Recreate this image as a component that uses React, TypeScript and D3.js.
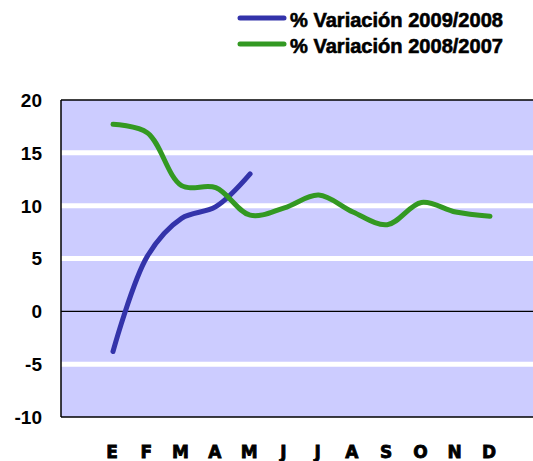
import { curveCatmullRom, line, scaleLinear, scalePoint } from "d3";
import type { ReactElement } from "react";

const months = ["E", "F", "M", "A", "M2", "J", "J2", "A2", "S", "O", "N", "D"];
const monthLabels = ["E", "F", "M", "A", "M", "J", "J", "A", "S", "O", "N", "D"];
const var2009 = [-3.8, 5.2, 8.8, 9.9, 13.0];
const var2008 = [17.7, 16.9, 11.9, 11.7, 9.1, 9.8, 11.0, 9.4, 8.2, 10.3, 9.4, 9.0];
const yTicks = [-10, -5, 0, 5, 10, 15, 20];
const seriesNames = ["% Variación 2009/2008", "% Variación 2008/2007"];
const seriesColors = ["#3333aa", "#339922"];

type Pt = { key: string; value: number };

const App = (): ReactElement => {
  const width = 533;
  const height = 461;
  const plot = { left: 61, top: 100, right: 540, bottom: 417 } as const;

  const x = scalePoint<string>().domain(months).range([113, 490]);
  const y = scaleLinear().domain([-10, 20]).range([plot.bottom, plot.top]);

  const lineGen = line<Pt>()
    .x((d) => x(d.key) ?? 0)
    .y((d) => y(d.value))
    .curve(curveCatmullRom);

  const series = [var2009, var2008].map((vals) =>
    vals.map((v, i) => ({ key: months[i], value: v }))
  );

  return (
    <svg
      width={width}
      height={height}
      style={{ position: "absolute", left: 0, top: 0 }}
      fontFamily="'Liberation Sans', Arial, sans-serif"
    >
      <rect x={0} y={0} width={width} height={height} fill="#ffffff" />

      {/* legend */}
      {seriesNames.map((name, i) => {
        const ly = 18 + i * 26;
        return (
          <g key={name}>
            <line x1={240} x2={284} y1={ly} y2={ly} stroke={seriesColors[i]} strokeWidth={5} strokeLinecap="round" />
            <text
              x={290}
              y={ly + 9}
              fontFamily="'Liberation Sans Narrow', 'Liberation Sans', sans-serif"
              fontWeight="bold"
              fontSize={20}
              textLength={213}
              lengthAdjust="spacingAndGlyphs"
              fill="#000"
              stroke="#000"
              strokeWidth={0.6}
            >
              {name}
            </text>
          </g>
        );
      })}

      {/* plot area */}
      <rect x={plot.left} y={plot.top} width={plot.right - plot.left} height={plot.bottom - plot.top} fill="#ccccff" />
      {yTicks.map((t) => (
        <g key={t}>
          {t !== 0 && t !== -10 && t !== 20 && (
            <line x1={plot.left} x2={plot.right} y1={y(t)} y2={y(t)} stroke="#ffffff" strokeWidth={5} />
          )}
          <text
            x={42}
            y={y(t)}
            dy="0.36em"
            textAnchor="end"
            fontWeight="bold"
            fontSize={19}
            fill="#000"
          >
            {t}
          </text>
        </g>
      ))}
      <line x1={plot.left} x2={plot.right} y1={y(0)} y2={y(0)} stroke="#000" strokeWidth={1.2} />
      <line x1={plot.left} x2={plot.right} y1={plot.top} y2={plot.top} stroke="#000" strokeWidth={1.5} />
      <line x1={plot.left} x2={plot.right} y1={plot.bottom} y2={plot.bottom} stroke="#000" strokeWidth={1.5} />
      <line x1={plot.left} x2={plot.left} y1={plot.top} y2={plot.bottom} stroke="#000" strokeWidth={1.5} />

      {/* series */}
      {series.map((s, i) => (
        <path
          key={seriesNames[i]}
          d={lineGen(s) ?? ""}
          fill="none"
          stroke={seriesColors[i]}
          strokeWidth={5}
          strokeLinecap="round"
          strokeLinejoin="round"
        />
      ))}

      {/* month labels */}
      {months.map((m, i) => (
        <text
          key={m}
          x={(x(m) ?? 0) - 1}
          y={458}
          textAnchor="middle"
          fontFamily="'DejaVu Sans', sans-serif"
          fontWeight="bold"
          fontSize={17}
          fill="#000"
          stroke="#000"
          strokeWidth={0.8}
        >
          {monthLabels[i]}
        </text>
      ))}
    </svg>
  );
};

export default App;
